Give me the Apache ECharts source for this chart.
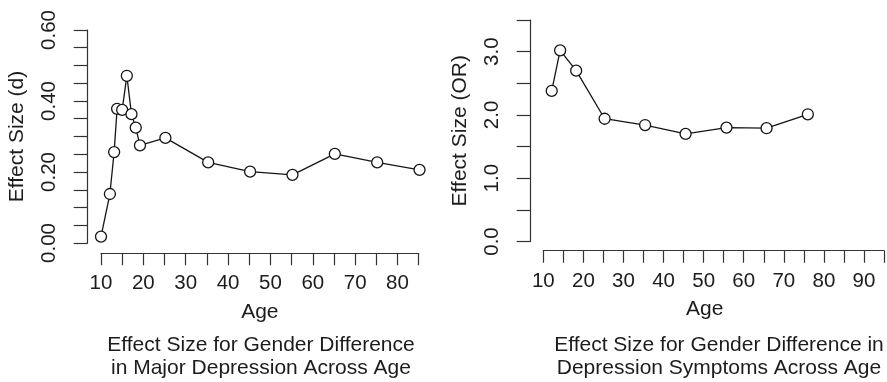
<!DOCTYPE html>
<html>
<head>
<meta charset="utf-8">
<script src="https://cdn.jsdelivr.net/npm/echarts@6/dist/echarts.min.js"></script>
<style>
html,body{margin:0;padding:0;background:#fff;}
#chart{width:887px;height:382px;}
</style>
</head>
<body>
<div id="chart"></div>
<script>
// Left panel: Major depression, effect size d by age
const ageMD = [10, 12.1, 13.1, 13.8, 15.0, 16.1, 17.2, 18.2, 19.2, 25.2, 35.3, 45.2, 55.2, 65.2, 75.2, 85.2];
const esMD  = [0.018, 0.138, 0.256, 0.378, 0.375, 0.471, 0.363, 0.325, 0.275, 0.296, 0.227, 0.201, 0.192, 0.251, 0.227, 0.206];
// Right panel: Depression symptoms, odds ratio by age
const ageSym = [12.1, 14.2, 18.2, 25.3, 35.4, 45.5, 55.7, 65.7, 76.0];
const orSym  = [2.38, 3.02, 2.70, 1.94, 1.84, 1.70, 1.80, 1.79, 2.01];
// Axis ranges / tick labels
const leftXRange = [10, 85];
const rightXRange = [10, 95];
const leftYRange = [0, 0.6];
const rightYRange = [0, 3.5];
const xLabelStep = 10;
const leftYLabelStep = 0.2;
const rightYLabelStep = 1.0;
const titleLeft = ['Effect Size for Gender Difference', 'in Major Depression Across Age'];
const titleRight = ['Effect Size for Gender Difference in', 'Depression Symptoms Across Age'];

const FONT = "'Liberation Sans', Arial, Helvetica, sans-serif";
const INK = '#1e1b1c';
const AX = '#333333';

function isMult(v, step) { const r = v / step; return Math.abs(r - Math.round(r)) < 1e-6; }

function xAxisCfg(idx, range, extra) {
  return Object.assign({
    type: 'value', gridIndex: idx, min: range[0], max: range[1], interval: 5,
    offset: 10,
    name: 'Age', nameLocation: 'middle', nameGap: 48,
    nameTextStyle: { fontFamily: FONT, fontSize: 21, color: INK },
    axisLine: { show: true, onZero: false, lineStyle: { color: AX, width: 1.2 } },
    axisTick: { show: true, length: 12, lineStyle: { color: AX, width: 1.2 } },
    axisLabel: { margin: 20, fontFamily: FONT, fontSize: 20.5, color: INK,
      formatter: v => isMult(v, xLabelStep) ? String(Math.round(v)) : '' },
    splitLine: { show: false }
  }, extra || {});
}
function yAxisCfg(idx, range, interval, step, digits, name, offset) {
  return {
    type: 'value', gridIndex: idx, min: range[0], max: range[1], interval: interval,
    offset: offset,
    name: name, nameLocation: 'middle', nameGap: 60,
    nameTextStyle: { fontFamily: FONT, fontSize: 21, color: INK },
    axisLine: { show: true, onZero: false, lineStyle: { color: AX, width: 1.2 } },
    axisTick: { show: true, length: 14, lineStyle: { color: AX, width: 1.2 } },
    axisLabel: { rotate: 90, margin: 28, fontFamily: FONT, fontSize: 20.5, color: INK,
      formatter: v => isMult(v, step) ? v.toFixed(digits) : '' },
    splitLine: { show: false }
  };
}
function seriesCfg(idx, xs, ys) {
  return {
    type: 'line', xAxisIndex: idx, yAxisIndex: idx,
    data: xs.map((x, i) => [x, ys[i]]),
    symbol: 'circle', symbolSize: 11, clip: false,
    lineStyle: { color: '#151515', width: 1.3 },
    itemStyle: { color: '#ffffff', borderColor: '#151515', borderWidth: 1.3 },
    emphasis: { disabled: true }, silent: true, animation: false
  };
}

const chart = echarts.init(document.getElementById('chart'), null, { renderer: 'canvas' });
chart.setOption({
  animation: false,
  backgroundColor: '#ffffff',
  title: [
    { text: titleLeft.join('\n'), left: 261, top: 333, textAlign: 'center', padding: 0,
      textStyle: { fontFamily: FONT, fontSize: 21, fontWeight: 'normal', color: INK, lineHeight: 23.5 } },
    { text: titleRight.join('\n'), left: 719, top: 333, textAlign: 'center', padding: 0,
      textStyle: { fontFamily: FONT, fontSize: 21, fontWeight: 'normal', color: INK, lineHeight: 23.5 } }
  ],
  grid: [
    { left: 101, right: 468.3, top: 30, bottom: 139 },
    { left: 543.3, right: -4.8, top: 20, bottom: 140.5 }
  ],
  xAxis: [
    xAxisCfg(0, leftXRange, { offset: 10.3 }),
    xAxisCfg(1, rightXRange, { offset: 9.2, nameTextStyle: { fontFamily: FONT, fontSize: 21, color: INK, padding: [0, 18, 0, 0] } })
  ],
  yAxis: [
    yAxisCfg(0, leftYRange, 0.05, leftYLabelStep, 2, 'Effect Size (d)', 13.3),
    yAxisCfg(1, rightYRange, 0.5, rightYLabelStep, 1, 'Effect Size (OR)', 12.6)
  ],
  series: [
    seriesCfg(0, ageMD, esMD),
    seriesCfg(1, ageSym, orSym)
  ]
});
</script>
</body>
</html>
